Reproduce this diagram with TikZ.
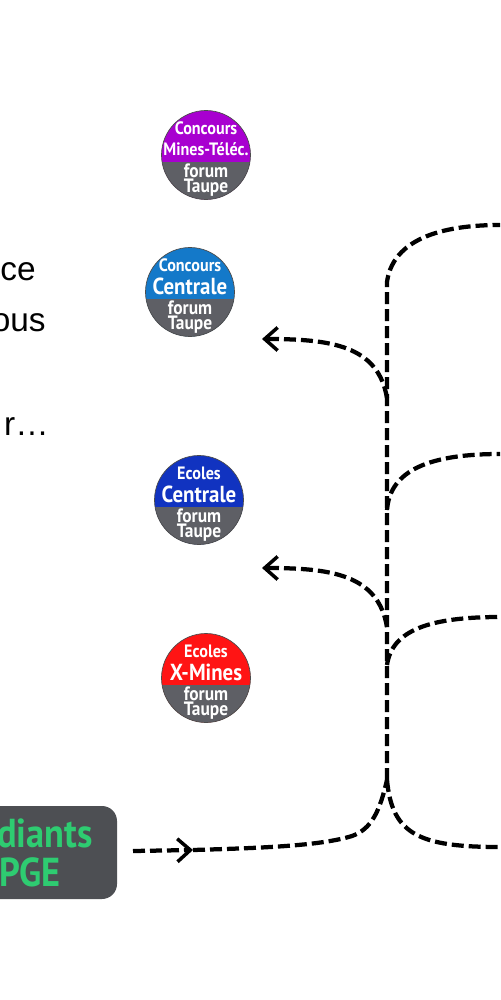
\documentclass[tikz,border=0pt]{standalone}
\usepackage{fontspec}
\setmainfont{Liberation Sans}
\newfontfamily\dinfont[FakeStretch=0.9]{PT Sans}
\usepackage{tikz}
\usetikzlibrary{arrows.meta,calc}
\definecolor{INK}{HTML}{000000}
\definecolor{GREYDISC}{HTML}{5E5F65}
\definecolor{GREYBOX}{HTML}{4D4F53}
\definecolor{GREENTXT}{HTML}{2ECC71}
\definecolor{PURPLE}{HTML}{A800D0}
\definecolor{SKY}{HTML}{1479C9}
\definecolor{NAVY}{HTML}{1133C0}
\definecolor{RED}{HTML}{FF1414}

\begin{document}
\begin{tikzpicture}[x=0.02cm,y=-0.02cm]
\tikzset{flow/.style={line width=0.085cm,INK,dash pattern=on 0.24cm off 0.1cm},
 tip/.style={-{Straight Barb[length=2.6mm,width=4.6mm,line width=0.07cm]}},
 disc/.style={circle,draw=black!70,line width=0.4pt,minimum size=1.78cm,inner sep=0pt},
 small/.style={white,font=\dinfont\bfseries\fontsize{10.2}{11}\selectfont,inner sep=0pt},
 large/.style={white,font=\dinfont\bfseries\fontsize{13.2}{14}\selectfont,inner sep=0pt},
 forum/.style={white,align=center,font=\dinfont\bfseries\fontsize{11}{8.6}\selectfont,inner sep=0pt},
 note/.style={anchor=base east,font=\fontsize{19}{21}\selectfont,inner sep=0pt},
 boxtxt/.style={anchor=east,GREENTXT,font=\dinfont\bfseries\fontsize{23}{25}\selectfont,inner sep=0pt}}
\useasboundingbox (0,0) rectangle (500,1000);
\node[note] (ce) at (36,280){ce};
\node[note] (ous) at (46,331){ous};
\node[note] (etc) at (49,435){r…};
\foreach \nm/\cx/\cy/\col/\first/\second/\snd in {
 mines/206/155/PURPLE/Concours/Mines-Téléc./small,
 centrale/190/292/SKY/Concours/Centrale/large,
 ecoles/199/500/NAVY/Ecoles/Centrale/large,
 xmines/206/678/RED/Ecoles/X-Mines/large}{
 \node[disc,fill=\col,path picture={\fill[GREYDISC] (-50,7) rectangle (50,50);}] (\nm) at (\cx,\cy){};
 \node[small] (\nm a) at (\cx,\cy-27){\first};
 \node[\snd] (\nm b) at (\cx,\cy-6){\second};
 \node[forum] (\nm c) at (\cx,\cy+25.5){forum\\Taupe};
}
\fill[GREYBOX,rounded corners=0.3cm] (-40,806) rectangle (117,899);
\node[boxtxt] (etu) at (93,833){diants};
\node[boxtxt] (pge) at (61,872){PGE};
\coordinate (start) at (133,851);
\coordinate (mid) at (193,850);
\coordinate (bend) at (352,836);
\coordinate (fork) at (387,780);
\coordinate (top) at (387,282);
\coordinate (outa) at (500,225);
\coordinate (outb) at (500,454);
\coordinate (outc) at (500,617);
\coordinate (outd) at (500,847);
\coordinate (joina) at (387,398);
\coordinate (joinb) at (387,510);
\coordinate (joinc) at (387,627);
\coordinate (joind) at (387,665);
\coordinate (enda) at (262,339);
\coordinate (endb) at (262,568);
\draw[flow,tip] (start) -- (mid);
\draw[flow] (mid) .. controls (260,848) and (320,846) .. (bend) .. controls (372,829) and (380,810) .. (fork);
\draw[flow] (fork) .. controls (392,835) and (420,847) .. (outd);
\draw[flow] (fork) -- (top) .. controls (392,245) and (430,225) .. (outa);
\draw[flow] (joinb) .. controls (390,470) and (430,454) .. (outb);
\draw[flow] (joind) .. controls (392,630) and (430,617) .. (outc);
\draw[flow,tip] (joina) .. controls (378,345) and (330,339) .. (enda);
\draw[flow,tip] (joinc) .. controls (378,574) and (330,568) .. (endb);
\end{tikzpicture}
\end{document}
